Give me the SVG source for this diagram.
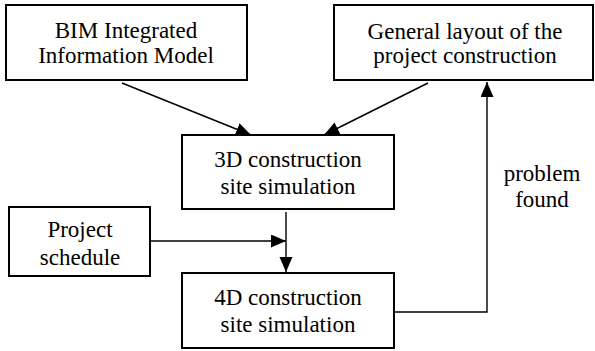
<svg xmlns="http://www.w3.org/2000/svg" width="595" height="351" viewBox="0 0 595 351">
<style>
.box{fill:#fff;stroke:#000;stroke-width:2}
.t{font-family:'Liberation Serif','DejaVu Serif',serif;font-size:23px;fill:#000;text-anchor:middle}
.c{fill:none;stroke:#000;stroke-width:1.4}
</style>
<defs>
<marker id="ah" markerUnits="userSpaceOnUse" markerWidth="16" markerHeight="14" refX="15" refY="6.5" orient="auto">
<path d="M0,0 L15,6.5 L0,13 Z" fill="#000"/>
</marker>
</defs>
<rect width="595" height="351" fill="#fff"/>
<g id="connectors">
<line class="c" x1="122" y1="83" x2="251" y2="135" marker-end="url(#ah)"/>
<line class="c" x1="428" y1="83" x2="324" y2="135" marker-end="url(#ah)"/>
<line class="c" x1="286" y1="212" x2="286" y2="272" marker-end="url(#ah)"/>
<line class="c" x1="150" y1="241" x2="286" y2="241" marker-end="url(#ah)"/>
<polyline class="c" points="394,312 487,312 487,82" marker-end="url(#ah)"/>
</g>
<g id="bim">
<rect class="box" x="6" y="5" width="241" height="75"/>
<text class="t" font-family="Liberation Serif" x="126" y="38">BIM Integrated</text>
<text class="t" font-family="Liberation Serif" x="126" y="63">Information Model</text>
</g>
<g id="general">
<rect class="box" x="334" y="5" width="259" height="75"/>
<text class="t" x="465" y="39">General layout of the</text>
<text class="t" x="465" y="63">project construction</text>
</g>
<g id="sim3d">
<rect class="box" x="182" y="135" width="212" height="74"/>
<text class="t" x="288" y="167">3D construction</text>
<text class="t" x="288" y="194">site simulation</text>
</g>
<g id="schedule">
<rect class="box" x="9" y="207" width="141" height="69"/>
<text class="t" x="80" y="237">Project</text>
<text class="t" x="80" y="265">schedule</text>
</g>
<g id="sim4d">
<rect class="box" x="182" y="273" width="212" height="75"/>
<text class="t" x="288" y="305">4D construction</text>
<text class="t" x="288" y="332">site simulation</text>
</g>
<g id="label">
<text class="t" x="542" y="181">problem</text>
<text class="t" x="542" y="207">found</text>
</g>
</svg>
